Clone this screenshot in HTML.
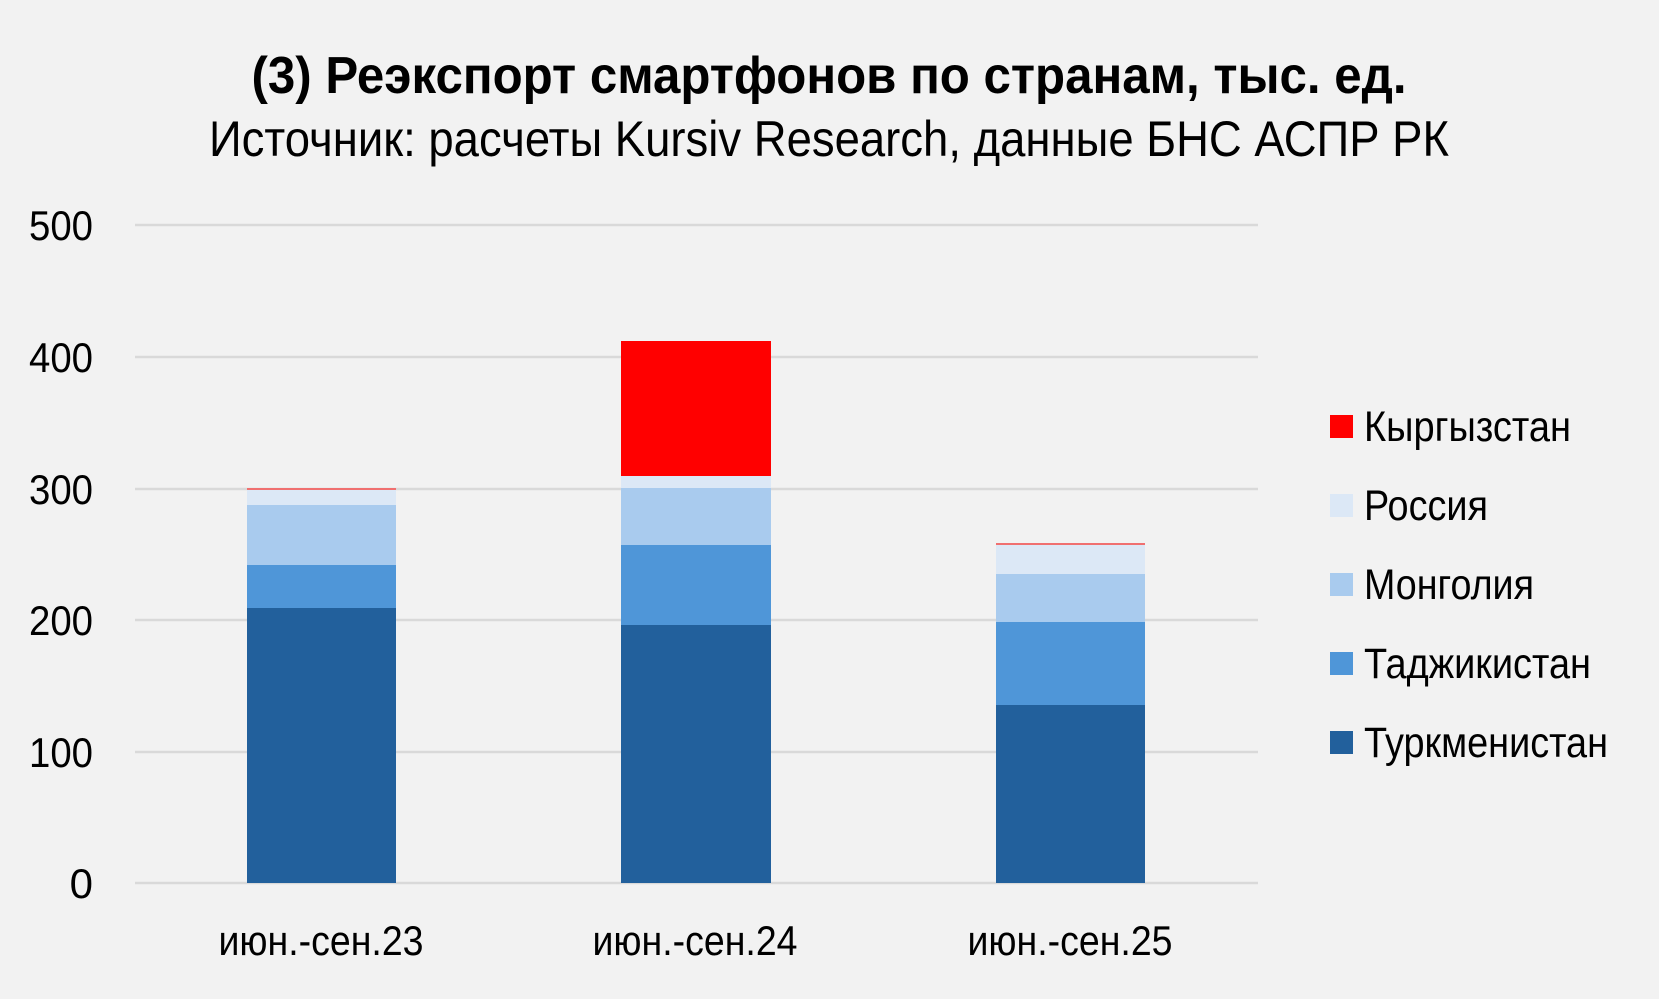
<!DOCTYPE html><html><head><meta charset="utf-8"><style>html,body{margin:0;padding:0;background:#f2f2f2}svg{display:block}</style></head><body>
<svg width="1659" height="999" viewBox="0 0 1659 999" xmlns="http://www.w3.org/2000/svg" font-family="'Liberation Sans Narrow','Liberation Sans',sans-serif">
<rect width="1659" height="999" fill="#f2f2f2"/>
<text x="829" y="93" text-anchor="middle" font-size="52" font-weight="bold" textLength="1155" lengthAdjust="spacingAndGlyphs" fill="#000">(3) Реэкспорт смартфонов по странам, тыс. ед.</text>
<text x="829" y="156" text-anchor="middle" font-size="50" textLength="1240" lengthAdjust="spacingAndGlyphs" fill="#000">Источник: расчеты Kursiv Research, данные БНС АСПР РК</text>
<g stroke="#d9d9d9" stroke-width="2.5">
<line x1="135" x2="1258" y1="225" y2="225"/><line x1="135" x2="1258" y1="357" y2="357"/><line x1="135" x2="1258" y1="489" y2="489"/><line x1="135" x2="1258" y1="620" y2="620"/><line x1="135" x2="1258" y1="752" y2="752"/><line x1="135" x2="1258" y1="883" y2="883"/>
</g>
<g font-size="42" text-anchor="end" fill="#000">
<text x="93" y="240" textLength="64" lengthAdjust="spacingAndGlyphs">500</text>
<text x="93" y="372" textLength="64" lengthAdjust="spacingAndGlyphs">400</text>
<text x="93" y="504" textLength="64" lengthAdjust="spacingAndGlyphs">300</text>
<text x="93" y="635" textLength="64" lengthAdjust="spacingAndGlyphs">200</text>
<text x="93" y="767" textLength="64" lengthAdjust="spacingAndGlyphs">100</text>
<text x="93" y="898">0</text>
</g>
<rect x="247" y="608" width="149" height="275" fill="#22609c"/>
<rect x="247" y="565" width="149" height="43" fill="#4f96d8"/>
<rect x="247" y="505" width="149" height="60" fill="#a9cbee"/>
<rect x="247" y="490" width="149" height="15" fill="#dce8f6"/>
<rect x="247" y="488" width="149" height="2" fill="#f07070"/>
<rect x="621" y="625" width="150" height="258" fill="#22609c"/>
<rect x="621" y="545" width="150" height="80" fill="#4f96d8"/>
<rect x="621" y="488" width="150" height="57" fill="#a9cbee"/>
<rect x="621" y="476" width="150" height="12" fill="#dce8f6"/>
<rect x="621" y="341" width="150" height="135" fill="#ff0000"/>
<rect x="996" y="705" width="149" height="178" fill="#22609c"/>
<rect x="996" y="622" width="149" height="83" fill="#4f96d8"/>
<rect x="996" y="574" width="149" height="48" fill="#a9cbee"/>
<rect x="996" y="545" width="149" height="29" fill="#dce8f6"/>
<rect x="996" y="543" width="149" height="2" fill="#f07070"/>
<g font-size="42" text-anchor="middle" fill="#000">
<text x="321" y="955" textLength="205" lengthAdjust="spacingAndGlyphs">июн.-сен.23</text>
<text x="695" y="955" textLength="205" lengthAdjust="spacingAndGlyphs">июн.-сен.24</text>
<text x="1070" y="955" textLength="205" lengthAdjust="spacingAndGlyphs">июн.-сен.25</text>
</g>
<g font-size="43" fill="#000">
<rect x="1330" y="415" width="23" height="23" fill="#ff0000"/><text x="1364" y="441" textLength="207" lengthAdjust="spacingAndGlyphs">Кыргызстан</text>
<rect x="1330" y="494" width="23" height="23" fill="#dce8f6"/><text x="1364" y="520" textLength="124" lengthAdjust="spacingAndGlyphs">Россия</text>
<rect x="1330" y="573" width="23" height="23" fill="#a9cbee"/><text x="1364" y="599" textLength="170" lengthAdjust="spacingAndGlyphs">Монголия</text>
<rect x="1330" y="652" width="23" height="23" fill="#4f96d8"/><text x="1364" y="678" textLength="227" lengthAdjust="spacingAndGlyphs">Таджикистан</text>
<rect x="1330" y="731" width="23" height="23" fill="#22609c"/><text x="1364" y="757" textLength="244" lengthAdjust="spacingAndGlyphs">Туркменистан</text>
</g>
</svg>
</body></html>
